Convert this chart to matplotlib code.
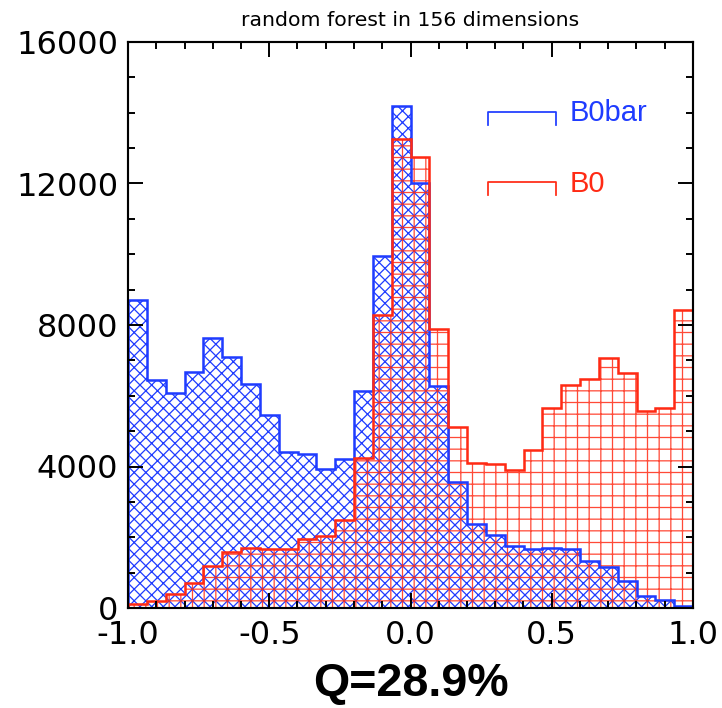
import numpy as np
import matplotlib
matplotlib.use('Agg')
import matplotlib.pyplot as plt

# Histogram contents, 30 bins over [-1, 1].
bin_lo, bin_hi, n_bins = -1.0, 1.0, 30
b0bar_counts = [8700, 6450, 6070, 6680, 7620, 7100, 6320, 5450, 4420, 4340,
                3930, 4220, 6130, 9950, 14180, 12020, 6280, 3560, 2370, 2050,
                1740, 1680, 1690, 1680, 1340, 1170, 760, 350, 220, 70]
b0_counts = [100, 200, 400, 720, 1200, 1590, 1700, 1680, 1680, 1950,
             2040, 2490, 4250, 8280, 13250, 12760, 7880, 5120, 4100, 4080,
             3900, 4470, 5650, 6310, 6470, 7080, 6650, 5560, 5660, 8430]
title = 'random forest in 156 dimensions'
xlabel = 'Q=28.9%'
x_ticks = [-1.0, -0.5, 0.0, 0.5, 1.0]
y_ticks = [0, 4000, 8000, 12000, 16000]

blue = '#1f3cff'
red = '#ff2a14'

DPI = 140
plt.rcParams['hatch.linewidth'] = 0.65
plt.rcParams['axes.unicode_minus'] = True


def main():
  fig = plt.figure(figsize=(722 / DPI, 708 / DPI), dpi=DPI)
  ax = fig.add_axes([128 / 722, 100 / 708, 565 / 722, 566 / 708])

  edges = np.linspace(bin_lo, bin_hi, n_bins + 1)
  ax.stairs(b0bar_counts, edges, fill=True, facecolor='none',
            edgecolor=blue, hatch='xxxx', linewidth=0)
  ax.stairs(b0_counts, edges, fill=True, facecolor='none',
            edgecolor=red, hatch='++', linewidth=0, alpha=0.85)
  ax.stairs(b0bar_counts, edges, color=blue, linewidth=1.3)
  ax.stairs(b0_counts, edges, color=red, linewidth=1.3)

  ax.set_xlim(bin_lo, bin_hi)
  ax.set_ylim(0, 16000)
  ax.set_xticks(x_ticks)
  ax.set_xticklabels(['%.1f' % t for t in x_ticks])
  ax.set_yticks(y_ticks)
  ax.set_xticks(np.arange(-1.0, 1.01, 0.1), minor=True)
  ax.set_yticks(np.arange(0, 16001, 1000), minor=True)
  ax.tick_params(which='both', direction='in', top=True, right=True,
                 width=1.0, color='black')
  ax.tick_params(which='major', length=7.5, labelsize=16.5)
  ax.tick_params(which='minor', length=3.5)
  ax.tick_params(axis='x', pad=6)
  ax.tick_params(axis='y', pad=5)
  for spine in ax.spines.values():
    spine.set_linewidth(1.1)

  ax.set_title(title, fontsize=10.5, pad=8)
  ax.set_xlabel(xlabel, fontsize=24, fontweight='bold',
                family=['Liberation Sans', 'DejaVu Sans'], labelpad=6)

  # Legend drawn as little step symbols, IDL style.
  for yy, lab, col in [(0.876, 'B0bar', blue), (0.752, 'B0', red)]:
    ax.plot([0.637, 0.637, 0.758, 0.758], [yy - 0.022, yy, yy, yy - 0.022],
            transform=ax.transAxes, color=col, linewidth=0.9)
    ax.text(0.781, yy - 0.002, lab, transform=ax.transAxes, color=col,
            fontsize=15, va='center', ha='left',
            family=['Liberation Sans', 'DejaVu Sans'])

  fig.savefig('out.png', dpi=DPI)


if __name__ == '__main__':
  main()
